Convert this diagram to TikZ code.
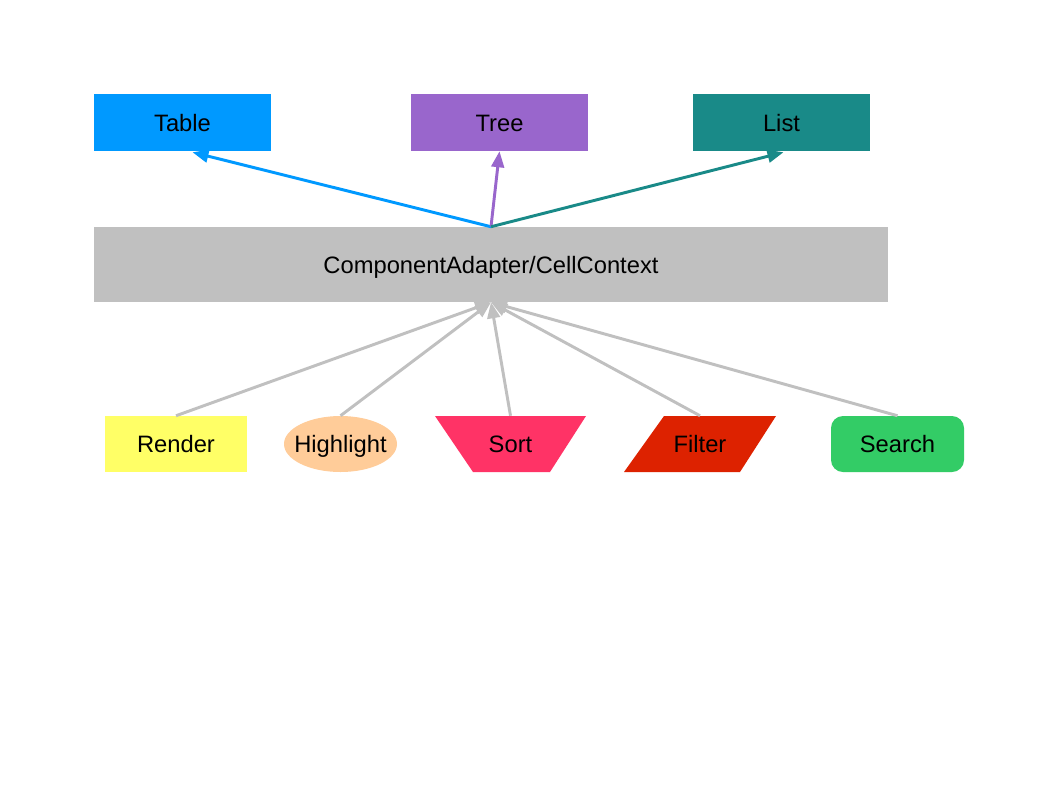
\documentclass[tikz,border=0pt]{standalone}
\usepackage{fontspec}
\setmainfont{Liberation Sans}
\usetikzlibrary{arrows.meta,calc,shapes.geometric}
\definecolor{ctable}{HTML}{0099FF}
\definecolor{ctree}{HTML}{9966CC}
\definecolor{clist}{HTML}{198A88}
\definecolor{ccenter}{HTML}{C0C0C0}
\definecolor{crender}{HTML}{FFFF66}
\definecolor{chigh}{HTML}{FFCC99}
\definecolor{csort}{HTML}{FF3366}
\definecolor{cfilter}{HTML}{DD2200}
\definecolor{csearch}{HTML}{33CC66}
\tikzset{
  lbl/.style={font=\fontsize{17.8}{20}\selectfont, text=black, inner sep=0pt, text depth=0pt, text height=12.8pt},
  topbox/.style={lbl, rectangle, minimum width=132.75pt, minimum height=42.75pt},
  botbox/.style={lbl, minimum height=42pt},
  conn/.style={line width=2.2pt, -{Triangle[length=12pt,width=9.5pt]}},
}
\begin{document}
\begin{tikzpicture}[x=0.75pt,y=-0.75pt]
\useasboundingbox[fill=white] (0,0) rectangle (1058,794);
% top row
\node[topbox, fill=ctable] (table) at (182.5,122.5) {Table};
\node[topbox, fill=ctree] (tree) at (499.5,122.5) {Tree};
\node[topbox, fill=clist] (list) at (781.5,122.5) {List};
% center
\node[lbl, fill=ccenter, minimum width=595.5pt, minimum height=56.25pt] (center) at (491,264.5) {ComponentAdapter/CellContext};
% bottom row shapes
\node[botbox, fill=crender, minimum width=106.5pt] (render) at (176,444) {Render};
\fill[chigh] (340.5,444) ellipse [x radius=56.5, y radius=28];
\node[botbox, minimum width=84.75pt] (highlight) at (340.5,444) {Highlight};
\fill[csort] (435,416) -- (586,416) -- (550,472) -- (473,472) -- cycle;
\node[botbox, minimum width=75pt] (sort) at (510.5,444) {Sort};
\fill[cfilter] (664,416) -- (776,416) -- (740,472) -- (624,472) -- cycle;
\node[botbox, minimum width=75pt] (filter) at (700,444) {Filter};
\node[botbox, fill=csearch, rounded corners=9pt, minimum width=99.75pt] (search) at (897.5,444) {Search};
% top connectors
\draw[conn, ctable] (center.north) -- ($(table.south)+(10,1)$);
\draw[conn, ctree] (center.north) -- (tree.south);
\draw[conn, clist] (center.north) -- ($(list.south)+(2,1)$);
% bottom connectors
\foreach \n in {render,highlight,sort,filter,search}
  \draw[conn, ccenter] (\n.north) -- (center.south);
\end{tikzpicture}
\end{document}
